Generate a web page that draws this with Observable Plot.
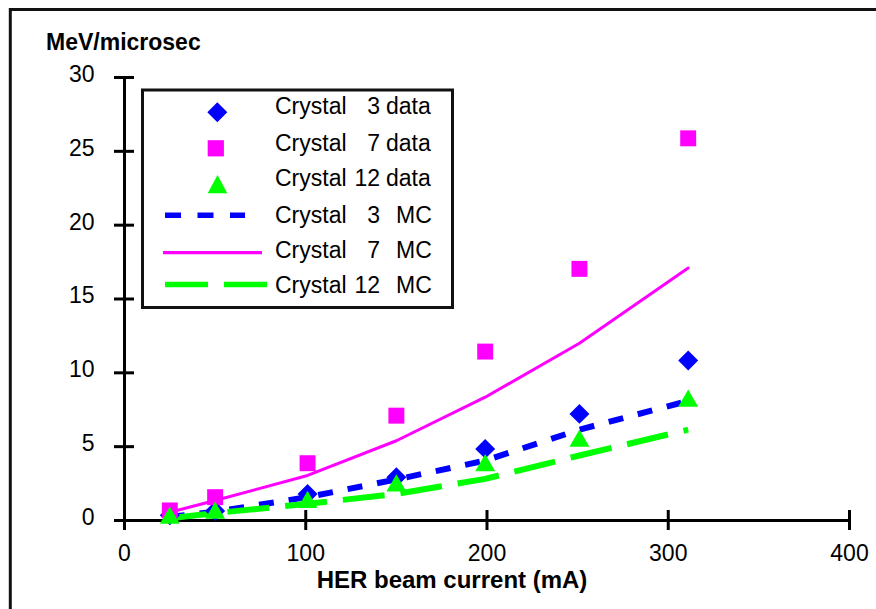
<!DOCTYPE html>
<html>
<head>
<meta charset="utf-8">
<script src="https://cdn.jsdelivr.net/npm/d3@7"></script>
<script src="https://cdn.jsdelivr.net/npm/@observablehq/plot@0.6"></script>
<style>
  html, body { margin: 0; padding: 0; background: #fff; }
  #wrap { position: relative; width: 876px; height: 609px; overflow: hidden; background: #fff; }
  #wrap > svg { position: absolute; left: 0; top: 0; }
  text { font-family: "Liberation Sans", Arial, sans-serif; }
</style>
</head>
<body>
<div id="wrap"></div>
<script>
// ---- Data ----
const currents      = [25, 50, 101, 150, 199, 251, 311];           // HER beam current (mA)
const crystal3Data  = [0.35, 0.65, 1.80, 2.93, 4.85, 7.22, 10.83];  // MeV/microsec
const crystal7Data  = [0.68, 1.58, 3.88, 7.10, 11.44, 17.04, 25.88];
const crystal12Data = [0.17, 0.50, 1.24, 2.35, 3.72, 5.38, 8.09];
const crystal3MC    = [0.25, 0.60, 1.58, 2.78, 4.06, 6.15, 8.10];
const crystal7MC    = [0.56, 1.35, 3.05, 5.40, 8.35, 12.00, 17.10];
const crystal12MC   = [0.15, 0.50, 1.13, 1.80, 2.82, 4.40, 6.15];
const xTicks = [0, 100, 200, 300, 400];
const yTicks = [0, 5, 10, 15, 20, 25, 30];
const legendLabels = [
  ["Crystal", "3", "data"],
  ["Crystal", "7", "data"],
  ["Crystal", "12", "data"],
  ["Crystal", "3", "MC"],
  ["Crystal", "7", "MC"],
  ["Crystal", "12", "MC"]
];
const xLabel = "HER beam current (mA)";
const yLabel = "MeV/microsec";

const BLUE = "#0000ff", MAGENTA = "#ff00ff", GREEN = "#00ff00";

const table = arr => currents.map((c, i) => ({current: c, value: arr[i]}));

const chart = Plot.plot({
  width: 876,
  height: 609,
  marginLeft: 124,
  marginRight: 27,
  marginTop: 77,
  marginBottom: 89,
  x: {domain: [0, 400]},
  y: {domain: [0, 30]},
  style: {fontFamily: '"Liberation Sans", Arial, sans-serif', background: "transparent", color: "#000"},
  marks: [
    // axis lines
    Plot.ruleX([0], {stroke: "#000", strokeWidth: 3}),
    Plot.ruleY([0], {stroke: "#000", strokeWidth: 3, x1: 0, x2: 400}),
    // crossing ticks
    Plot.axisX({ticks: xTicks, tickSize: 20, dy: -10, strokeWidth: 3, stroke: "#000", strokeOpacity: 1, tickFormat: () => "", label: null}),
    Plot.axisY({ticks: yTicks, tickSize: 20, dx: 10, strokeWidth: 3, stroke: "#000", strokeOpacity: 1, tickFormat: () => "", label: null}),
    // tick labels
    Plot.axisX({ticks: xTicks, tickSize: 0, tickPadding: 24, fontSize: 23, label: null, fill: "#000"}),
    Plot.axisY({ticks: yTicks, tickSize: 0, tickPadding: 30, fontSize: 23, dy: -3, label: null, fill: "#000"}),
    // MC curves
    Plot.line(table(crystal3MC), {x: "current", y: "value", stroke: BLUE, strokeWidth: 6, strokeDasharray: "15,15", strokeLinecap: "butt", strokeLinejoin: "round"}),
    Plot.line(table(crystal7MC), {x: "current", y: "value", stroke: MAGENTA, strokeWidth: 3}),
    Plot.line(table(crystal12MC), {x: "current", y: "value", stroke: GREEN, strokeWidth: 6, strokeDasharray: "42,16", strokeLinecap: "butt", strokeLinejoin: "round"}),
    // data markers
    Plot.dot(table(crystal3Data), {x: "current", y: "value", symbol: "diamond2", r: 9, fill: BLUE}),
    Plot.dot(table(crystal7Data), {x: "current", y: "value", symbol: "square", r: 9, fill: MAGENTA}),
    Plot.dot(table(crystal12Data), {x: "current", y: "value", symbol: "triangle", r: 7.4, fill: GREEN})
  ]
});

const wrap = document.getElementById("wrap");
wrap.appendChild(chart);

// ---- Overlay: frame, titles, legend ----
const NS = "http://www.w3.org/2000/svg";
const ov = document.createElementNS(NS, "svg");
ov.setAttribute("width", 876);
ov.setAttribute("height", 609);
ov.style.position = "absolute";
ov.style.left = "0";
ov.style.top = "0";
function el(tag, attrs, text) {
  const e = document.createElementNS(NS, tag);
  for (const k in attrs) e.setAttribute(k, attrs[k]);
  if (text != null) e.textContent = text;
  ov.appendChild(e);
  return e;
}
// outer frame (top and left edges visible)
el("path", {d: "M10.3,612 V9.6 H880", fill: "none", stroke: "#111", "stroke-width": 3});
// y title
el("text", {x: 46, y: 50, "font-size": 23, "font-weight": "bold", fill: "#000"}, yLabel);
// x title
el("text", {x: 452, y: 588, "font-size": 24, "font-weight": "bold", fill: "#000", "text-anchor": "middle"}, xLabel);

// legend box
el("rect", {x: 142.5, y: 90, width: 310, height: 217.5, fill: "#fff", stroke: "#111", "stroke-width": 3});
const baselines = [113.5, 150.5, 186, 222.5, 257.5, 293];
legendLabels.forEach((lab, i) => {
  const b = baselines[i];
  el("text", {x: 275, y: b, "font-size": 23, fill: "#000"}, lab[0]);
  el("text", {x: 380, y: b, "font-size": 23, fill: "#000", "text-anchor": "end"}, lab[1]);
  el("text", {x: lab[2] === "data" ? 386 : 396, y: b, "font-size": 23, fill: "#000"}, lab[2]);
});
// legend swatches
el("path", {d: "M217.3,102.3 L227.3,112.3 L217.3,122.3 L207.3,112.3 Z", fill: BLUE});
el("rect", {x: 207.7, y: 140.2, width: 16.2, height: 16.2, fill: MAGENTA});
el("path", {d: "M217.5,175 L227.3,193.3 L207.7,193.3 Z", fill: GREEN});
el("line", {x1: 165, y1: 215.2, x2: 245, y2: 215.2, stroke: BLUE, "stroke-width": 5.5, "stroke-dasharray": "16,16.5"});
el("line", {x1: 163, y1: 252.7, x2: 262, y2: 252.7, stroke: MAGENTA, "stroke-width": 3.3});
el("line", {x1: 165, y1: 284.5, x2: 267, y2: 284.5, stroke: GREEN, "stroke-width": 5.7, "stroke-dasharray": "43,16"});

wrap.appendChild(ov);
</script>
</body>
</html>
